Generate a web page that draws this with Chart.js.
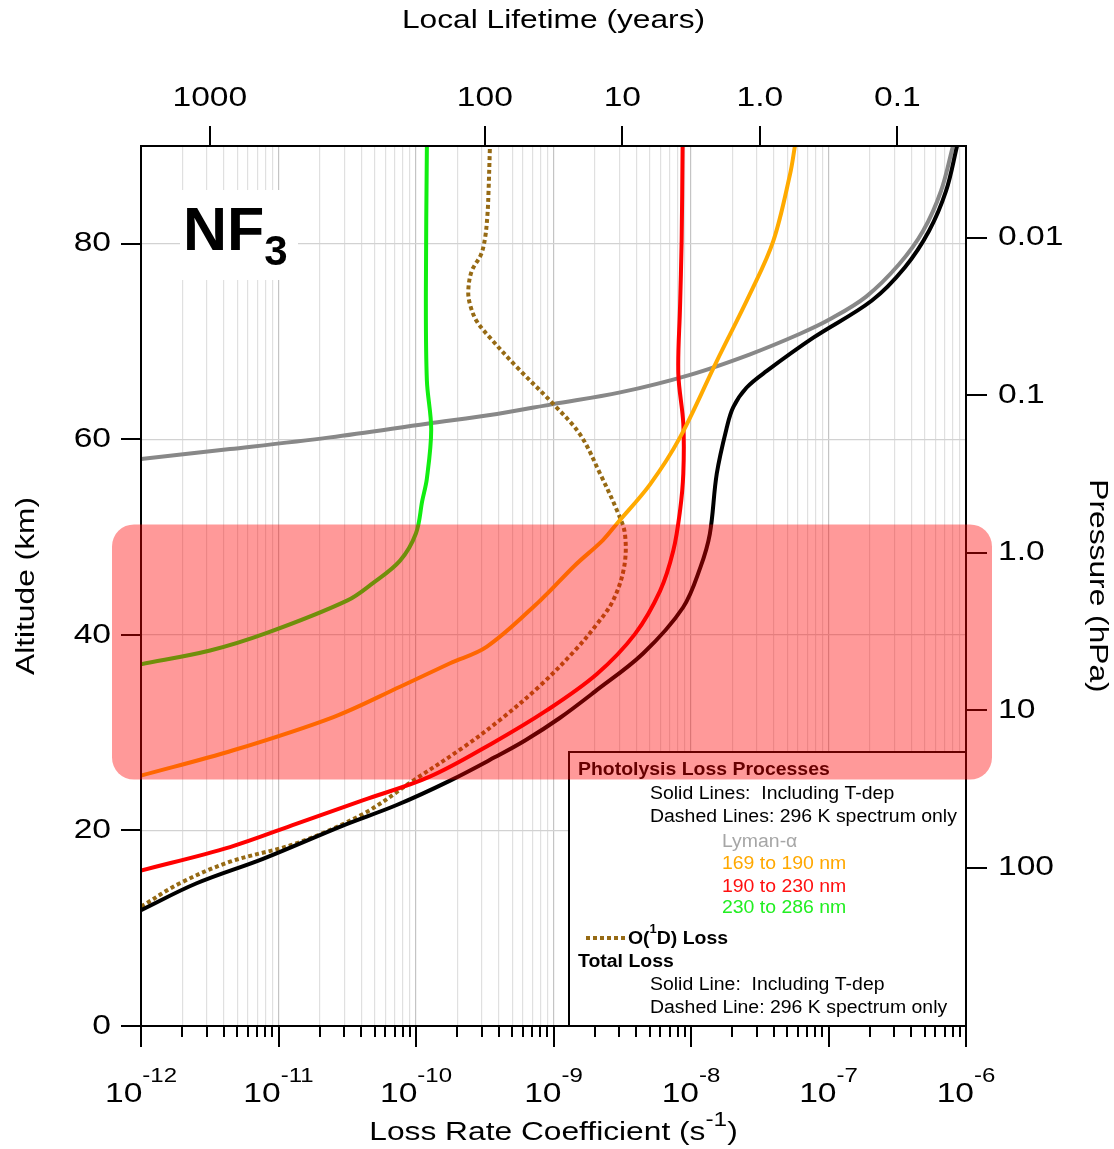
<!DOCTYPE html>
<html>
<head>
<meta charset="utf-8">
<title>NF3 loss rate coefficients</title>
<script src="https://cdn.jsdelivr.net/npm/chart.js@4.4.1/dist/chart.umd.min.js"></script>
<style>
  html, body { margin: 0; padding: 0; background: #fff; }
  #wrap { width: 1114px; height: 1149px; position: relative; }
</style>
</head>
<body>
<div id="wrap"><canvas id="lossChart"></canvas></div>
<script>
// Altitude (km) and loss rate coefficient (s^-1) profiles
const totalAlt   = [11.85, 14.6, 17.1, 20.5, 22.6, 25.1, 27.5, 29.2, 31.5, 34.2, 38.1, 42.8, 46.9, 50.3, 56.5, 61.2, 63.3, 65.3, 67.0, 70.4, 74.2, 77.6, 81.3, 85.4, 90];
const totalRate  = [1.0e-12, 2.54e-12, 7.71e-12, 2.94e-11, 7.24e-11, 1.77e-10, 3.76e-10, 6.21e-10, 1.11e-9, 2.00e-9, 4.48e-9, 8.75e-9, 1.17e-8, 1.37e-8, 1.54e-8, 1.82e-8, 2.03e-8, 2.54e-8, 3.56e-8, 7.76e-8, 2.07e-7, 3.60e-7, 5.38e-7, 7.16e-7, 8.61e-7];

const lymanAlt   = [58.0, 59.0, 60.2, 61.6, 62.6, 63.6, 64.8, 66.6, 68.7, 70.8, 72.3, 74.6, 77.9, 81.3, 85.4, 90];
const lymanRate  = [1.0e-12, 4.44e-12, 2.37e-11, 1.20e-10, 3.88e-10, 9.9e-10, 3.05e-9, 9.84e-9, 2.69e-8, 6.21e-8, 1.03e-7, 1.88e-7, 3.26e-7, 4.87e-7, 6.58e-7, 8.04e-7];

const band169Alt  = [25.6, 28.2, 31.6, 34.7, 37.1, 38.8, 43.5, 47.1, 49.7, 51.4, 55.4, 60.2, 68.0, 74.9, 80.3, 87.1, 90];
const band169Rate = [1.0e-12, 4.69e-12, 2.51e-11, 7.66e-11, 1.77e-10, 3.28e-10, 7.98e-10, 1.43e-9, 2.29e-9, 2.90e-9, 5.04e-9, 8.32e-9, 1.54e-8, 2.69e-8, 3.97e-8, 5.25e-8, 5.70e-8];

const band190Alt  = [15.9, 18.3, 20.7, 23.1, 25.5, 28.9, 32.3, 36.0, 40.1, 44.5, 48.6, 52.7, 56.5, 61.6, 66.7, 73.5, 80.3, 90];
const band190Rate = [1.0e-12, 4.44e-12, 1.36e-11, 4.14e-11, 1.26e-10, 3.57e-10, 8.97e-10, 2.07e-9, 3.92e-9, 5.96e-9, 7.43e-9, 8.32e-9, 8.79e-9, 8.79e-9, 8.09e-9, 8.32e-9, 8.55e-9, 8.69e-9];

const band230Alt  = [37.0, 38.4, 40.2, 43.5, 45.3, 47.6, 50.4, 53.7, 56.0, 61.0, 66.0, 75.0, 90];
const band230Rate = [1.0e-12, 3.18e-12, 8.24e-12, 3.15e-11, 4.86e-11, 7.66e-11, 1.0e-10, 1.11e-10, 1.20e-10, 1.29e-10, 1.20e-10, 1.18e-10, 1.20e-10];

const o1dAlt  = [12.2, 14.6, 16.8, 18.7, 21.7, 25.1, 28.5, 31.3, 34.8, 38.4, 41.1, 43.5, 46.9, 50.3, 52.5, 56.5, 60.5, 63.6, 67.4, 70.4, 72.1, 73.8, 75.2, 77.2, 78.9, 80.6, 83.0, 85.4, 90];
const o1dRate = [1.0e-12, 1.92e-12, 4.44e-12, 1.36e-11, 4.14e-11, 9.55e-11, 2.21e-10, 4.08e-10, 7.98e-10, 1.43e-9, 2.07e-9, 2.71e-9, 3.26e-9, 3.31e-9, 2.94e-9, 2.18e-9, 1.56e-9, 9.98e-10, 5.40e-10, 3.45e-10, 2.76e-10, 2.47e-10, 2.40e-10, 2.54e-10, 2.97e-10, 3.18e-10, 3.31e-10, 3.37e-10, 3.45e-10];

// Axis ticks
const rateDecades    = [-12, -11, -10, -9, -8, -7, -6];
const altitudeTicks  = [0, 20, 40, 60, 80];
const lifetimeTicks  = [1e4, 100, 10, 1, 0.1];
const lifetimeLabels = ['1000', '100', '10', '1.0', '0.1'];
const pressureTicks  = [0.01, 0.1, 1, 10, 100];
const pressureLabels = ['0.01', '0.1', '1.0', '10', '100'];

// Shaded altitude range (km)
const bandAlt = [25.2, 51.3];

const secPerYear = 3.156e7;
const FONT = '"Liberation Sans", Arial, sans-serif';

// one tick per 1..9 x 10^n, decades are major
const rateTicks = [];
rateDecades.forEach((e, i) => {
  const top = i === rateDecades.length - 1 ? 1 : 9;
  for (let m = 1; m <= top; m++) rateTicks.push({ value: m * Math.pow(10, e), major: m === 1 });
});

function series(rate, alt, color, extra) {
  return Object.assign({
    data: rate.map((r, i) => ({ x: r, y: alt[i] })),
    borderColor: color,
    borderWidth: 4,
    showLine: true,
    pointRadius: 0,
    tension: 0.35,
    borderCapStyle: 'round',
    borderJoinStyle: 'round'
  }, extra || {});
}

// draw a run of text pieces (for superscripts), optionally stretched and rotated
function drawRuns(ctx, runs, x, y, opts) {
  const o = Object.assign({ align: 'left', rotate: 0, stretch: 1, baseline: 'alphabetic' }, opts);
  ctx.save();
  ctx.translate(x, y);
  if (o.rotate) ctx.rotate(o.rotate);
  ctx.scale(o.stretch, 1);
  ctx.textBaseline = o.baseline;
  ctx.textAlign = 'left';
  const fontOf = r => `${r.weight || 'normal'} ${r.size}px ${FONT}`;
  const widths = runs.map(r => { ctx.font = fontOf(r); return ctx.measureText(r.t).width; });
  const total = widths.reduce((a, b) => a + b, 0);
  let cx = o.align === 'center' ? -total / 2 : o.align === 'right' ? -total : 0;
  runs.forEach((r, i) => {
    ctx.font = fontOf(r);
    ctx.fillStyle = r.color || '#000';
    ctx.fillText(r.t, cx, r.dy || 0);
    cx += widths[i];
  });
  ctx.restore();
}

const overlay = {
  id: 'overlay',
  afterDraw(chart) {
    const ctx = chart.ctx;
    const { left, right, top, bottom } = chart.chartArea;
    const xs = chart.scales.x, ys = chart.scales.y;
    const ls = chart.scales.life, ps = chart.scales.pres;
    const TS = 1.2;

    ctx.save();

    // species label
    ctx.fillStyle = '#fff';
    ctx.fillRect(left + 39, top + 44, 118, 90);
    drawRuns(ctx, [
      { t: 'NF', size: 61, weight: 'bold' },
      { t: '3', size: 42, weight: 'bold', dy: 15 }
    ], left + 42, top + 104);

    // legend box
    const lx = right - 397, ly = bottom - 274;
    ctx.fillStyle = '#fff';
    ctx.fillRect(lx, ly, right - lx, bottom - ly);
    ctx.strokeStyle = '#000';
    ctx.lineWidth = 2;
    ctx.strokeRect(lx, ly, right - lx, bottom - ly);

    const LS = 1.08, LF = 18;
    const mid = { baseline: 'middle', stretch: LS };
    drawRuns(ctx, [{ t: 'Photolysis Loss Processes', size: LF, weight: 'bold' }], lx + 9, ly + 18, mid);
    drawRuns(ctx, [{ t: 'Solid Lines:  Including T-dep', size: LF }], lx + 81, ly + 42, mid);
    drawRuns(ctx, [{ t: 'Dashed Lines: 296 K spectrum only', size: LF }], lx + 81, ly + 65, mid);
    drawRuns(ctx, [{ t: 'Lyman-\u03b1', size: LF, color: '#a6a6a6' }], lx + 153, ly + 90, mid);
    drawRuns(ctx, [{ t: '169 to 190 nm', size: LF, color: '#ffa800' }], lx + 153, ly + 112, mid);
    drawRuns(ctx, [{ t: '190 to 230 nm', size: LF, color: '#ff1010' }], lx + 153, ly + 135, mid);
    drawRuns(ctx, [{ t: '230 to 286 nm', size: LF, color: '#22ee22' }], lx + 153, ly + 156, mid);

    ctx.save();
    ctx.strokeStyle = '#966a14';
    ctx.lineWidth = 4;
    ctx.setLineDash([4, 3]);
    ctx.beginPath();
    ctx.moveTo(lx + 17, ly + 186);
    ctx.lineTo(lx + 57, ly + 186);
    ctx.stroke();
    ctx.restore();
    drawRuns(ctx, [
      { t: 'O(', size: LF, weight: 'bold' },
      { t: '1', size: 12, weight: 'bold', dy: -9 },
      { t: 'D) Loss', size: LF, weight: 'bold' }
    ], lx + 59, ly + 187, mid);
    drawRuns(ctx, [{ t: 'Total Loss', size: LF, weight: 'bold' }], lx + 9, ly + 210, mid);
    drawRuns(ctx, [{ t: 'Solid Line:  Including T-dep', size: LF }], lx + 81, ly + 233, mid);
    drawRuns(ctx, [{ t: 'Dashed Line: 296 K spectrum only', size: LF }], lx + 81, ly + 256, mid);

    // frame and tick marks
    ctx.strokeStyle = '#000';
    ctx.lineWidth = 2;
    ctx.strokeRect(left, top, right - left, bottom - top);
    ctx.beginPath();
    rateTicks.forEach(t => {
      const px = Math.round(xs.getPixelForValue(t.value));
      ctx.moveTo(px, bottom);
      ctx.lineTo(px, bottom + (t.major ? 21 : 11));
    });
    altitudeTicks.forEach(v => {
      const py = Math.round(ys.getPixelForValue(v));
      ctx.moveTo(left, py);
      ctx.lineTo(left - 20, py);
    });
    lifetimeTicks.forEach(v => {
      const px = Math.round(ls.getPixelForValue(v));
      ctx.moveTo(px, top);
      ctx.lineTo(px, top - 20);
    });
    pressureTicks.forEach(v => {
      const py = Math.round(ps.getPixelForValue(v));
      ctx.moveTo(right, py);
      ctx.lineTo(right + 21, py);
    });
    ctx.stroke();

    // shaded altitude range
    const by0 = ys.getPixelForValue(bandAlt[1]);
    const by1 = ys.getPixelForValue(bandAlt[0]);
    ctx.fillStyle = 'rgba(255, 0, 0, 0.4)';
    ctx.beginPath();
    ctx.roundRect(left - 29, by0, right - left + 55, by1 - by0, 22);
    ctx.fill();

    // tick labels
    altitudeTicks.forEach(v => {
      drawRuns(ctx, [{ t: String(v), size: 28 }], left - 30, ys.getPixelForValue(v), { align: 'right', baseline: 'middle', stretch: TS });
    });
    rateDecades.forEach(e => {
      drawRuns(ctx, [
        { t: '10', size: 28 },
        { t: String(e), size: 20, dy: -20 }
      ], xs.getPixelForValue(Math.pow(10, e)), bottom + 76, { align: 'center', stretch: TS });
    });
    lifetimeTicks.forEach((v, i) => {
      drawRuns(ctx, [{ t: lifetimeLabels[i], size: 28 }], ls.getPixelForValue(v), top - 48, { align: 'center', baseline: 'middle', stretch: TS });
    });
    pressureTicks.forEach((v, i) => {
      drawRuns(ctx, [{ t: pressureLabels[i], size: 28 }], right + 32, ps.getPixelForValue(v), { baseline: 'middle', stretch: TS });
    });

    // axis titles
    const cx = (left + right) / 2, cy = (top + bottom) / 2;
    drawRuns(ctx, [{ t: 'Local Lifetime (years)', size: 26 }], cx, 21, { align: 'center', baseline: 'middle', stretch: 1.22 });
    drawRuns(ctx, [
      { t: 'Loss Rate Coefficient (s', size: 26 },
      { t: '-1', size: 20, dy: -14 },
      { t: ')', size: 26 }
    ], cx, 1140, { align: 'center', stretch: 1.22 });
    drawRuns(ctx, [{ t: 'Altitude (km)', size: 26 }], 27, cy, { align: 'center', baseline: 'middle', rotate: -Math.PI / 2, stretch: 1.22 });
    drawRuns(ctx, [{ t: 'Pressure (hPa)', size: 26 }], 1097, cy, { align: 'center', baseline: 'middle', rotate: Math.PI / 2, stretch: 1.22 });

    ctx.restore();
  }
};

new Chart(document.getElementById('lossChart'), {
  type: 'scatter',
  data: {
    datasets: [
      series(totalRate, totalAlt, '#000000'),
      series(band169Rate, band169Alt, '#ffaa00'),
      series(band190Rate, band190Alt, '#ff0000'),
      series(band230Rate, band230Alt, '#11ee11'),
      series(o1dRate, o1dAlt, '#966a14', { borderDash: [4, 3], borderCapStyle: 'butt' }),
      series(lymanRate, lymanAlt, '#888888')
    ]
  },
  options: {
    responsive: true,
    maintainAspectRatio: false,
    animation: false,
    layout: { padding: { left: 141, right: 148, top: 146, bottom: 123 } },
    plugins: { legend: { display: false }, tooltip: { enabled: false } },
    scales: {
      x: {
        type: 'logarithmic',
        position: 'bottom',
        min: 1e-12,
        max: 1e-6,
        afterBuildTicks: s => { s.ticks = rateTicks.map(t => ({ value: t.value, major: t.major })); },
        ticks: { display: false, autoSkip: false },
        border: { display: false },
        grid: {
          drawTicks: false,
          lineWidth: 1.2,
          color: c => (c.tick && c.tick.major ? '#c4c4c4' : '#e0e0e0')
        }
      },
      y: {
        type: 'linear',
        min: 0,
        max: 90,
        afterBuildTicks: s => { s.ticks = altitudeTicks.map(v => ({ value: v })); },
        ticks: { display: false },
        border: { display: false },
        grid: { drawTicks: false, lineWidth: 1.2, color: '#d2d2d2' }
      },
      life: {
        type: 'logarithmic',
        position: 'top',
        display: false,
        reverse: true,
        min: 1 / (1e-6 * secPerYear),
        max: 1 / (1e-12 * secPerYear)
      },
      pres: {
        type: 'logarithmic',
        position: 'right',
        display: false,
        reverse: true,
        min: 0.00262,
        max: 1012
      }
    }
  },
  plugins: [overlay]
});
</script>
</body>
</html>
